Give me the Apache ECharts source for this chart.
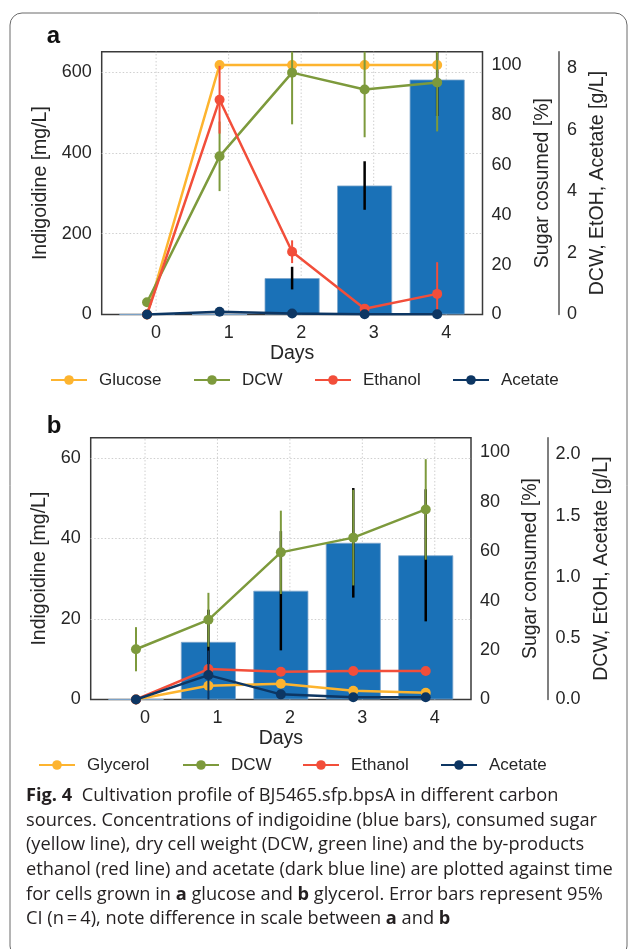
<!DOCTYPE html>
<html><head><meta charset="utf-8">
<script src="https://cdn.jsdelivr.net/npm/echarts@6/dist/echarts.min.js"></script>
<style>html,body{margin:0;padding:0;background:#fff;}#c{width:629px;height:949px;}</style>
</head><body><div id="c"></div>
<script>
// ---------- data ----------
const days = [0, 1, 2, 3, 4];
const xTickLabels = ['0', '1', '2', '3', '4'];
// panel a: glucose
const aIndigo     = [0, 0, 90, 319, 581];
const aIndigoErr  = [0, 0, 28, 60, 90];
const aGlucose    = [0, 100, 100, 100, 100];
const aGlucoseErr = [0, 0, 0, 0, 0];
const aDCW        = [0.40, 5.14, 7.86, 7.31, 7.54];
const aDCWErr     = [0.05, 1.13, 1.68, 1.55, 1.59];
const aEthanol    = [0, 6.98, 2.04, 0.19, 0.67];
const aEthanolErr = [0, 1.1, 0.37, 0.05, 1.03];
const aAcetate    = [0, 0.09, 0.03, 0.01, 0.01];
const aAcetateErr = [0, 0.02, 0.01, 0, 0];
// panel b: glycerol
const bIndigo      = [0, 14.3, 27.0, 38.9, 35.8];
const bIndigoErr   = [0, 8, 14.8, 13.6, 16.4];
const bGlycerol    = [0, 5.6, 6.4, 3.5, 2.7];
const bGlycerolErr = [0, 0.5, 0.5, 0.4, 0.4];
const bDCW         = [0.41, 0.65, 1.20, 1.32, 1.55];
const bDCWErr      = [0.18, 0.22, 0.34, 0.39, 0.41];
const bEthanol     = [0, 0.248, 0.226, 0.232, 0.232];
const bEthanolErr  = [0, 0.01, 0.01, 0.01, 0.02];
const bAcetate     = [0, 0.199, 0.042, 0.018, 0.018];
const bAcetateErr  = [0, 0.2, 0.01, 0.005, 0.005];

const captionLines = [
  '{b|Fig. 4}  Cultivation profile of BJ5465.sfp.bpsA in different carbon',
  'sources. Concentrations of indigoidine (blue bars), consumed sugar',
  '(yellow line), dry cell weight (DCW, green line) and the by-products',
  'ethanol (red line) and acetate (dark blue line) are plotted against time',
  'for cells grown in {b|a} glucose and {b|b} glycerol. Error bars represent 95%',
  'CI (n\u2009=\u20094), note difference in scale between {b|a} and {b|b}'
];

// ---------- style ----------
const FONT = "'Liberation Sans', Arial, sans-serif";
const CAP_FONT = "'Open Sans', 'Noto Sans', sans-serif";
const TXT = '#262626';
const C_BAR = '#1a71b7', C_SUGAR = '#fdb42f', C_DCW = '#7d9a3c', C_ETOH = '#f24e3a', C_ACE = '#0d3663';
const xShift = -0.125;
const X_MIN = -0.75, X_MAX = 4.5;
const NAME_SIZE = 19.5;

const panels = [
  { grid: {left: 101.7, top: 51.7, width: 380.8, height: 262.8},
    indigo: aIndigo, indigoErr: aIndigoErr,
    sugar: aGlucose, sugarErr: aGlucoseErr, sugarName: 'Glucose',
    dcw: aDCW, dcwErr: aDCWErr, etoh: aEthanol, etohErr: aEthanolErr, ace: aAcetate, aceErr: aAcetateErr,
    yMax: [650, 105.3, 8.54], yInt: [200, 20, 2],
    names: ['Indigoidine [mg/L]', 'Sugar cosumed [%]', 'DCW, EtOH, Acetate [g/L]'],
    nameGap: [42.5, 46, 22.5], thirdFmt: v => String(v),
    legendTop: 370, legendLeft: [50, 193, 314, 452] },
  { grid: {left: 90.7, top: 437.7, width: 380.3, height: 261.8},
    indigo: bIndigo, indigoErr: bIndigoErr,
    sugar: bGlycerol, sugarErr: bGlycerolErr, sugarName: 'Glycerol',
    dcw: bDCW, dcwErr: bDCWErr, etoh: bEthanol, etohErr: bEthanolErr, ace: bAcetate, aceErr: bAcetateErr,
    yMax: [65, 106, 2.135], yInt: [20, 20, 0.5],
    names: ['Indigoidine [mg/L]', 'Sugar consumed [%]', 'DCW, EtOH, Acetate [g/L]'],
    nameGap: [37, 45.5, 33], thirdFmt: v => v.toFixed(1),
    legendTop: 755, legendLeft: [38, 182, 302, 440] }
];

const grids = [], xAxes = [], yAxes = [], series = [], legends = [];

function pts(vals) { return days.map((d, i) => [d + xShift, vals[i]]); }

function errSeries(xi, yi, vals, errs, color, width, ymax, z) {
  return {
    type: 'custom', xAxisIndex: xi, yAxisIndex: yi, z: z, silent: true,
    data: days.map((d, i) => [d + xShift, vals[i], errs[i]]),
    encode: {x: 0, y: 1},
    renderItem: (params, api) => {
      const x = api.value(0), v = api.value(1), e = api.value(2);
      if (!e) return {type: 'group', children: []};
      const lo = Math.max(0, v - e), hi = Math.min(ymax, v + e);
      const p1 = api.coord([x, lo]), p2 = api.coord([x, hi]);
      return {type: 'line', shape: {x1: p1[0], y1: p1[1], x2: p2[0], y2: p2[1]},
              style: {stroke: color, lineWidth: width}};
    }
  };
}

function lineSeries(name, xi, yi, vals, color, z) {
  return {
    name: name, type: 'line', xAxisIndex: xi, yAxisIndex: yi, z: z,
    data: pts(vals), symbol: 'circle', symbolSize: 10,
    lineStyle: {color: color, width: 2.5}, itemStyle: {color: color},
    emphasis: {disabled: true}, animation: false
  };
}

panels.forEach((p, k) => {
  grids.push(Object.assign({show: true, borderColor: '#3a3a3a', borderWidth: 1.5,
    backgroundColor: 'transparent', containLabel: false, outerBoundsMode: 'none'}, p.grid));
  xAxes.push({
    type: 'value', gridIndex: k, min: X_MIN, max: X_MAX, interval: 0.25,
    axisLine: {show: false}, axisTick: {show: false}, splitLine: {show: false},
    axisLabel: {color: TXT, fontSize: 18, fontFamily: FONT, margin: 10,
      formatter: v => { const r = Math.round(v); return (Math.abs(v - r) < 1e-6 && days.indexOf(r) >= 0) ? xTickLabels[days.indexOf(r)] : ''; }},
    name: 'Days', nameLocation: 'middle', nameGap: 28,
    nameTextStyle: {color: TXT, fontSize: NAME_SIZE, fontFamily: FONT}
  });
  const y0 = yAxes.length;
  // left axis
  yAxes.push({
    type: 'value', gridIndex: k, position: 'left', min: 0, max: p.yMax[0], interval: p.yInt[0],
    axisLine: {show: false}, axisTick: {show: false},
    splitLine: {show: true, showMinLine: false, showMaxLine: false, lineStyle: {color: '#cfcfcf', type: [1.5, 2], width: 1}},
    axisLabel: {color: TXT, fontSize: 18, fontFamily: FONT, margin: 10, showMaxLabel: false},
    name: p.names[0], nameLocation: 'middle', nameRotate: 90, nameGap: p.nameGap[0],
    nameTextStyle: {color: TXT, fontSize: NAME_SIZE, fontFamily: FONT}
  });
  // sugar axis
  yAxes.push({
    type: 'value', gridIndex: k, position: 'right', min: 0, max: p.yMax[1], interval: p.yInt[1],
    axisLine: {show: false}, axisTick: {show: false}, splitLine: {show: false},
    axisLabel: {color: TXT, fontSize: 18, fontFamily: FONT, margin: 9, showMaxLabel: false},
    name: p.names[1], nameLocation: 'middle', nameRotate: 90, nameGap: p.nameGap[1],
    nameTextStyle: {color: TXT, fontSize: NAME_SIZE, fontFamily: FONT}
  });
  // third axis
  yAxes.push({
    type: 'value', gridIndex: k, position: 'right', offset: 76.5, min: 0, max: p.yMax[2], interval: p.yInt[2],
    axisLine: {show: true, lineStyle: {color: '#555', width: 1.5}}, axisTick: {show: false}, splitLine: {show: false},
    axisLabel: {color: TXT, fontSize: 18, fontFamily: FONT, margin: 8, showMaxLabel: false, formatter: p.thirdFmt},
    name: p.names[2], nameLocation: 'middle', nameRotate: 90, nameGap: p.nameGap[2],
    nameTextStyle: {color: TXT, fontSize: NAME_SIZE, fontFamily: FONT}
  });

  // vertical dotted grid lines at day ticks
  series.push({
    type: 'custom', xAxisIndex: k, yAxisIndex: y0, z: 0, silent: true,
    data: days.map(d => [d, 0]), encode: {x: 0, y: 1},
    renderItem: (params, api) => {
      const d = api.value(0);
      const a = api.coord([d, 0]), b = api.coord([d, p.yMax[0]]);
      return {type: 'line', shape: {x1: a[0], y1: a[1], x2: b[0], y2: b[1]},
              style: {stroke: '#cfcfcf', lineWidth: 1, lineDash: [1.5, 2]}};
    }
  });
  // bars
  series.push({
    name: 'Indigoidine', type: 'bar', xAxisIndex: k, yAxisIndex: y0, z: 2,
    data: pts(p.indigo), barWidth: 55,
    itemStyle: {color: C_BAR, borderColor: '#7ea6cc', borderWidth: 0.8},
    emphasis: {disabled: true}, animation: false
  });
  series.push(errSeries(k, y0, p.indigo, p.indigoErr, '#000', 2.5, p.yMax[0], 3));
  // sugar
  series.push(errSeries(k, y0 + 1, p.sugar, p.sugarErr, C_SUGAR, 2, p.yMax[1], 4));
  series.push(lineSeries(p.sugarName, k, y0 + 1, p.sugar, C_SUGAR, 4));
  // DCW
  series.push(errSeries(k, y0 + 2, p.dcw, p.dcwErr, C_DCW, 2, p.yMax[2], 5));
  series.push(lineSeries('DCW', k, y0 + 2, p.dcw, C_DCW, 5));
  // Ethanol
  series.push(errSeries(k, y0 + 2, p.etoh, p.etohErr, C_ETOH, 2, p.yMax[2], 6));
  series.push(lineSeries('Ethanol', k, y0 + 2, p.etoh, C_ETOH, 6));
  // Acetate
  series.push(errSeries(k, y0 + 2, p.ace, p.aceErr, C_ACE, 2, p.yMax[2], 7));
  series.push(lineSeries('Acetate', k, y0 + 2, p.ace, C_ACE, 7));

  [p.sugarName, 'DCW', 'Ethanol', 'Acetate'].forEach((nm, j) => {
    legends.push({
      data: [nm], left: p.legendLeft[j], top: p.legendTop, padding: 0, orient: 'horizontal',
      itemWidth: 36, itemHeight: 12, selectedMode: false,
      textStyle: {color: TXT, fontSize: 17, fontFamily: FONT, lineHeight: 20, padding: [0, 0, 0, 7]}
    });
  });
});

// caption font size fitted to the reference line width
const ctx = document.createElement('canvas').getContext('2d');
ctx.font = '100px ' + CAP_FONT;
const capSize = 100 * 587 / ctx.measureText(captionLines[3]).width;

const graphics = [
  {type: 'rect', silent: true, shape: {x: 10, y: 13, width: 617, height: 945, r: 12},
   style: {fill: 'none', stroke: '#6a6a6a', lineWidth: 1}},
  {type: 'text', silent: true, left: 46.7, top: 24, style: {text: 'a', fontSize: 24, fontWeight: 'bold', fontFamily: FONT, fill: '#111'}},
  {type: 'text', silent: true, left: 46.7, top: 414, style: {text: 'b', fontSize: 24, fontWeight: 'bold', fontFamily: FONT, fill: '#111'}}
];
captionLines.forEach((t, i) => {
  graphics.push({
    type: 'text', silent: true, x: 26, y: 796 + i * 24.6,
    style: {text: t, fontSize: capSize, fontFamily: CAP_FONT, fill: '#231f20', verticalAlign: 'middle', align: 'left',
      rich: {b: {fontSize: capSize, fontFamily: CAP_FONT, fontWeight: 'bold', fill: '#231f20'}}}
  });
});

const chart = echarts.init(document.getElementById('c'));
chart.setOption({
  backgroundColor: '#fff',
  animation: false,
  textStyle: {fontFamily: FONT},
  grid: grids, xAxis: xAxes, yAxis: yAxes, series: series, legend: legends,
  graphic: graphics
});
</script></body></html>
